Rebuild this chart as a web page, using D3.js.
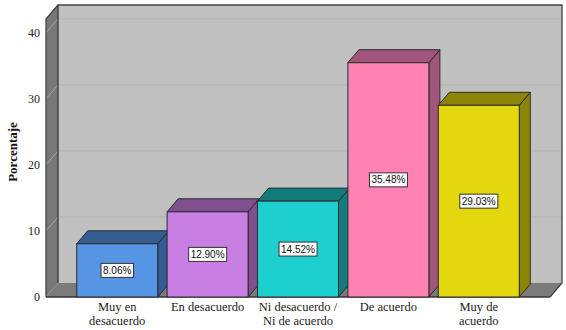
<html>
<head>
<meta charset="UTF-8">
<script src="https://d3js.org/d3.v7.min.js"></script>
<style>
  body { margin: 0; background: #fff; }
  svg text { font-family: "Liberation Serif", "Times New Roman", serif; }
</style>
</head>
<body>
<div id="chart"></div>
<script>
// data
var categories = ["Muy en desacuerdo", "En desacuerdo", "Ni desacuerdo / Ni de acuerdo", "De acuerdo", "Muy de acuerdo"];
var categoryLines = [["Muy en", "desacuerdo"], ["En desacuerdo"], ["Ni desacuerdo /", "Ni de acuerdo"], ["De acuerdo"], ["Muy de", "acuerdo"]];
var values = [8.06, 12.90, 14.52, 35.48, 29.03];
var valueLabels = ["8.06%", "12.90%", "14.52%", "35.48%", "29.03%"];
var yTicks = [0, 10, 20, 30, 40];

var frontColors = ["#5595e3", "#c97ee3", "#1dcfcf", "#fe82b2", "#e3d70d"];
var darkColors  = ["#345c91", "#7f4f8f", "#127b7b", "#a2557a", "#8c8506"];

var W = 566, H = 330;
var pLeft = 46, pRight = 550, pTop = 19, pBottom = 297;
var dx = 12, dy = -14;      // wall depth
var bdx = 11, bdy = -13;    // bar depth

var svg = d3.select("#chart").append("svg")
    .attr("width", W).attr("height", H);

var x = d3.scaleBand()
    .domain(categories)
    .range([pLeft, pRight])
    .paddingInner(0.104)
    .paddingOuter(0.34);

var y = d3.scaleLinear()
    .domain([0, 42.1])
    .range([pBottom, pTop]);

function pts(a) { return a.map(function(p) { return p.join(","); }).join(" "); }

// back wall
svg.append("rect")
    .attr("x", pLeft + dx).attr("y", pTop + dy)
    .attr("width", pRight - pLeft).attr("height", pBottom - pTop)
    .attr("fill", "#c0c0c0");

// left wall
svg.append("polygon")
    .attr("points", pts([[pLeft, pTop], [pLeft + dx, pTop + dy], [pLeft + dx, pBottom + dy], [pLeft, pBottom]]))
    .attr("fill", "#787878");

// floor
svg.append("polygon")
    .attr("points", pts([[pLeft, pBottom], [pLeft + dx, pBottom + dy], [pRight + dx, pBottom + dy], [pRight, pBottom]]))
    .attr("fill", "#7b7b7b");

// grid lines
var grid = svg.append("g");
yTicks.filter(function(v) { return v > 0; }).forEach(function(v) {
  grid.append("line")
      .attr("x1", pLeft + dx).attr("x2", pRight + dx)
      .attr("y1", y(v) + dy).attr("y2", y(v) + dy)
      .attr("stroke", "#b3b3b3").attr("stroke-width", 1);
  grid.append("line")
      .attr("x1", pLeft).attr("x2", pLeft + dx)
      .attr("y1", y(v)).attr("y2", y(v) + dy)
      .attr("stroke", "#a9a9a9").attr("stroke-width", 1);
});

// box outlines
svg.append("polyline")
    .attr("points", pts([[pLeft, pBottom], [pLeft, pTop], [pLeft + dx, pTop + dy], [pRight + dx, pTop + dy], [pRight + dx, pBottom + dy], [pRight, pBottom]]))
    .attr("fill", "none").attr("stroke", "#444").attr("stroke-width", 1.3);
svg.append("line")
    .attr("x1", pLeft + dx).attr("x2", pLeft + dx)
    .attr("y1", pTop + dy).attr("y2", pBottom + dy)
    .attr("stroke", "#333").attr("stroke-width", 1.3);
svg.append("line")
    .attr("x1", pLeft).attr("x2", pRight)
    .attr("y1", pBottom).attr("y2", pBottom)
    .attr("stroke", "#333").attr("stroke-width", 1.3);

// bars
var bw = x.bandwidth();
var bars = svg.append("g").selectAll("g")
    .data(values)
    .enter().append("g");

bars.append("polygon")   // side
    .attr("points", function(d, i) {
      var x1 = x(categories[i]) + bw, yt = y(d);
      return pts([[x1, yt], [x1 + bdx, yt + bdy], [x1 + bdx, pBottom + bdy], [x1, pBottom]]);
    })
    .attr("fill", function(d, i) { return darkColors[i]; })
    .attr("stroke", "#2b2b2b").attr("stroke-width", 1).attr("stroke-linejoin", "round");

bars.append("polygon")   // top
    .attr("points", function(d, i) {
      var x0 = x(categories[i]), yt = y(d);
      return pts([[x0, yt], [x0 + bdx, yt + bdy], [x0 + bw + bdx, yt + bdy], [x0 + bw, yt]]);
    })
    .attr("fill", function(d, i) { return darkColors[i]; })
    .attr("stroke", "#2b2b2b").attr("stroke-width", 1).attr("stroke-linejoin", "round");

bars.append("rect")      // front
    .attr("x", function(d, i) { return x(categories[i]); })
    .attr("y", function(d) { return y(d); })
    .attr("width", bw)
    .attr("height", function(d) { return pBottom - y(d); })
    .attr("fill", function(d, i) { return frontColors[i]; })
    .attr("stroke", "#2b2b2b").attr("stroke-width", 1);

// value labels
bars.each(function(d, i) {
  var g = d3.select(this);
  var cx = x(categories[i]) + bw / 2;
  var cy = (y(d) + pBottom) / 2;
  var t = g.append("text")
      .attr("x", cx).attr("y", cy)
      .attr("text-anchor", "middle")
      .attr("dominant-baseline", "central")
      .style("font-family", "'Liberation Sans', Arial, sans-serif")
      .style("font-size", "10px")
      .attr("fill", "#111")
      .text(valueLabels[i]);
  var bb = t.node().getBBox();
  g.insert("rect", "text")
      .attr("x", bb.x - 2).attr("y", cy - 7)
      .attr("width", bb.width + 4).attr("height", 14)
      .attr("fill", "#fff").attr("stroke", "#333").attr("stroke-width", 1);
});

// y axis labels
svg.append("g").selectAll("text")
    .data(yTicks)
    .enter().append("text")
    .attr("x", 40)
    .attr("y", function(d) { return y(d); })
    .attr("dy", "0.35em")
    .attr("text-anchor", "end")
    .style("font-size", "12px")
    .attr("fill", "#222")
    .text(function(d) { return d; });

// x axis labels
var xl = svg.append("g").selectAll("text")
    .data(categoryLines)
    .enter().append("text")
    .attr("text-anchor", "middle")
    .style("font-size", "12.5px")
    .attr("fill", "#222");
xl.each(function(lines, i) {
  var t = d3.select(this);
  lines.forEach(function(l, j) {
    t.append("tspan")
        .attr("x", x(categories[i]) + bw / 2)
        .attr("y", 311 + j * 14)
        .text(l);
  });
});

// y axis title
svg.append("text")
    .attr("transform", "translate(17,152) rotate(-90)")
    .attr("text-anchor", "middle")
    .style("font-size", "13px")
    .style("font-weight", "bold")
    .attr("fill", "#111")
    .text("Porcentaje");
</script>
</body>
</html>
